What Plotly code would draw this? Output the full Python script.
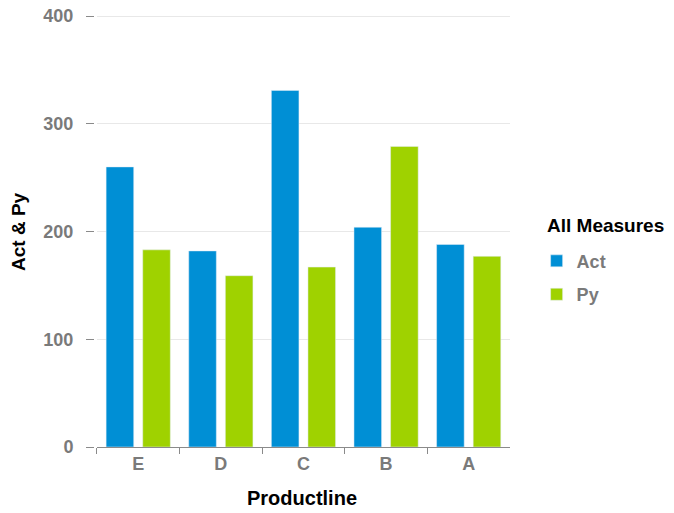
import plotly.graph_objects as go

categories = ["E", "D", "C", "B", "A"]
act = [260, 182, 331, 204, 188]
py = [183, 159, 167, 279, 177]

BLUE = "#008FD5"
GREEN = "#9FD200"
GRAY = "#7a7a7a"
FONT = "Liberation Sans, Arial, sans-serif"

fig = go.Figure()
fig.add_trace(go.Bar(name="Act", x=categories, y=act, marker_color=BLUE,
                     legendgroup="a"))
fig.add_trace(go.Bar(name="Py", x=categories, y=py, marker_color=GREEN,
                     legendgroup="b"))

title_font = dict(family=FONT, size=19, color="black", weight="bold")

fig.update_layout(
    width=666, height=505,
    margin=dict(l=86, r=164, t=7, b=66),
    plot_bgcolor="white", paper_bgcolor="white",
    barmode="group", bargap=0.114, bargroupgap=0.246,
    font=dict(family=FONT, size=18, color=GRAY),
    legend=dict(
        font=dict(family=FONT, size=18, color=GRAY, weight="bold"),
        x=1.064, xanchor="left", y=0.392, yanchor="middle",
        tracegroupgap=7, bgcolor="rgba(0,0,0,0)",
    ),
    showlegend=True,
    annotations=[
        dict(text="All Measures", xref="paper", yref="paper", x=1.084, y=0.513,
             xanchor="left", yanchor="middle", showarrow=False, font=title_font),
        dict(text="Productline", xref="paper", yref="paper", x=0.5, y=-0.118,
             xanchor="center", yanchor="middle", showarrow=False,
             font=dict(family=FONT, size=20, color="black", weight="bold")),
        dict(text="Act & Py", xref="paper", yref="paper", x=-0.1827, y=0.5,
             xanchor="center", yanchor="middle", showarrow=False, textangle=-90,
             font=title_font),
    ],
)
fig.update_xaxes(
    domain=[0.007, 1], automargin=False,
    tickfont=dict(family=FONT, size=18, color=GRAY, weight="bold"),
    showline=True, linecolor="#8a8a8a", linewidth=1,
    ticks="outside", tickson="boundaries", ticklen=6, tickcolor="#8a8a8a",
    showgrid=False,
)
fig.update_yaxes(
    anchor="free", position=0, automargin=False,
    range=[0, 401], tickvals=[0, 100, 200, 300, 400],
    tickfont=dict(family=FONT, size=18, color=GRAY, weight="bold"),
    showline=False, ticks="outside", ticklen=8, tickcolor="#8a8a8a",
    ticklabelstandoff=9, ticklabeloverflow="allow",
    showgrid=True, gridcolor="#e8e8e8", gridwidth=1, zeroline=False,
)

fig.write_html("out.html")
